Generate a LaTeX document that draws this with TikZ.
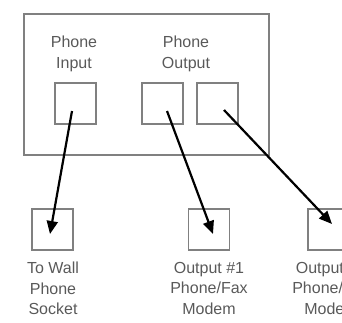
\documentclass[tikz,border=0pt]{standalone}
\usepackage{fontspec}
\setmainfont{Liberation Sans}
\usetikzlibrary{arrows.meta}
\begin{document}
\begin{tikzpicture}[x=1pt,y=-1pt,
  frame/.style={draw=black!50,line width=2pt},
  jack/.style={draw=black!50,line width=1.9pt},
  lbl/.style={text=black!65,font=\fontsize{16}{20.5}\selectfont,align=center,inner sep=0pt},
  wire/.style={draw=black,line width=2.2pt,-{Triangle[length=13pt,width=11pt]}}]
\useasboundingbox (0,0) rectangle (342,322);
\node[frame,minimum width=245pt,minimum height=141pt,inner sep=0pt] (box) at (146.5,84.5) {};
\node[jack,minimum size=41pt,inner sep=0pt] (in) at (75.5,103.5) {};
\node[jack,minimum size=41pt,inner sep=0pt] (out1) at (162.5,103.5) {};
\node[jack,minimum size=41pt,inner sep=0pt] (out2) at (217.5,103.5) {};
\node[lbl,anchor=north] (lin) at (74,36) {Phone\\Input};
\node[lbl,anchor=north] (lout) at (186,36) {Phone\\Output};
\node[jack,minimum size=41pt,inner sep=0pt] (wall) at (52.5,229.5) {};
\node[jack,minimum size=41pt,inner sep=0pt] (dev1) at (209,229.5) {};
\node[jack,minimum size=41pt,inner sep=0pt] (dev2) at (328.5,229.5) {};
\node[lbl,anchor=north] (twall) at (53,262) {To Wall\\Phone\\Socket};
\node[lbl,anchor=north] (tdev1) at (209,262) {Output \#1\\Phone/Fax\\Modem};
\node[lbl,anchor=north] (tdev2) at (331,262) {Output \#2\\Phone/Fax\\Modem};
\coordinate (s1) at (72,111);
\coordinate (e1) at (50,234);
\coordinate (s2) at (167,111);
\coordinate (e2) at (213,234);
\coordinate (s3) at (224,110);
\coordinate (e3) at (332,224);
\draw[wire] (s1) -- (e1);
\draw[wire] (s2) -- (e2);
\draw[wire] (s3) -- (e3);
\end{tikzpicture}
\end{document}
